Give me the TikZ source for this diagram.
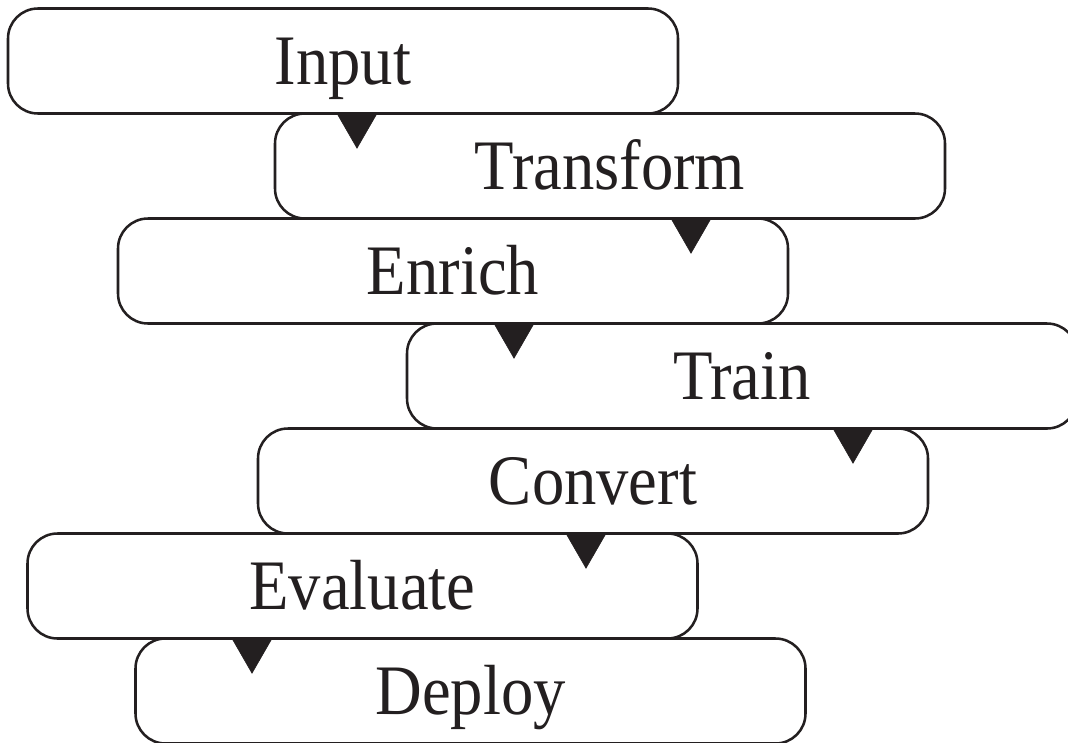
\documentclass[tikz,border=0pt]{standalone}
\usepackage{fontspec}
\setmainfont[FakeStretch=0.91]{Liberation Serif}
\usetikzlibrary{arrows.meta}
\definecolor{ink}{RGB}{35,31,32}
\begin{document}
\begin{tikzpicture}

      \tikzset{stage/.style={draw=ink, line width=1.8pt, rounded corners=0.75cm, fill=white, text=ink,
                             minimum width=16.75cm, minimum height=2.625cm, inner sep=0pt,
                             text height=1.18cm, text depth=0pt,
                             font=\fontsize{50.5}{54}\selectfont}}
      \tikzset{flow/.style={ink, line width=0.4pt, -{Triangle[length=0.85cm, width=0.975cm]}}}
      \useasboundingbox (0,0) rectangle (26.7,-18.55);
      \clip (0,0) rectangle (26.7,-18.55);
%% Stages
      	\node[stage] (input) at (8.575,-1.525) {Input};
      	\node[stage] (transform) at (15.25,-4.15) {Transform};
      	\node[stage] (enrich) at (11.325,-6.775) {Enrich};
      	\node[stage] (train) at (18.55,-9.4) {Train};
      	\node[stage] (convert) at (14.825,-12.025) {Convert};
      	\node[stage] (evaluate) at (9.0625,-14.65) {Evaluate};
      	\node[stage] (deploy) at (11.7625,-17.275) {Deploy};

%Edges
		\draw[flow] ([xshift=0.35cm]input.south) -- ([xshift=0.35cm,yshift=-0.85cm]input.south);
		\draw[flow] ([xshift=2.025cm]transform.south) -- ([xshift=2.025cm,yshift=-0.85cm]transform.south);
		\draw[flow] ([xshift=1.525cm]enrich.south) -- ([xshift=1.525cm,yshift=-0.85cm]enrich.south);
		\draw[flow] ([xshift=2.775cm]train.south) -- ([xshift=2.775cm,yshift=-0.85cm]train.south);
		\draw[flow] ([xshift=-0.175cm]convert.south) -- ([xshift=-0.175cm,yshift=-0.85cm]convert.south);
		\draw[flow] ([xshift=-2.7625cm]evaluate.south) -- ([xshift=-2.7625cm,yshift=-0.85cm]evaluate.south);
	\end{tikzpicture}
\end{document}
